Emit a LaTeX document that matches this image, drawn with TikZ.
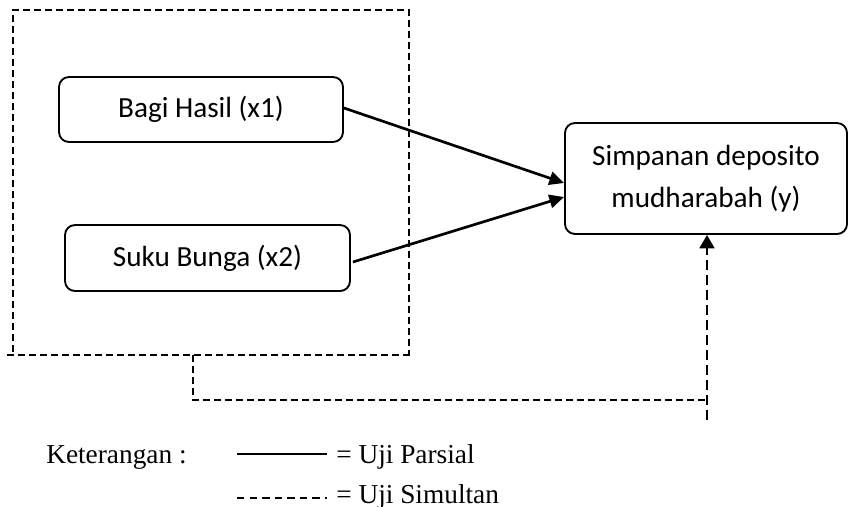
\documentclass[tikz,border=0pt]{standalone}
\usepackage{fontspec}
\setmainfont{Liberation Serif}
\newfontfamily\boxfont{Carlito}
\usetikzlibrary{arrows.meta,calc}
\begin{document}
\begin{tikzpicture}[x=0.75pt,y=-0.75pt,
  varbox/.style={draw, line width=1.4pt, rounded corners=7.5pt, inner sep=0pt,
    font=\boxfont\fontsize{21.9pt}{31.5pt}\selectfont, align=center},
  partial/.style={line width=2pt, -{Triangle[length=11pt,width=10pt]}},
  groupline/.style={line width=1.4pt, dash pattern=on 5.25pt off 3pt},
  simline/.style={line width=2pt, dash pattern=on 7.5pt off 3.75pt, -{Triangle[length=10pt,width=11pt]}},
  legtext/.style={anchor=base west, inner sep=0pt, font=\fontsize{20.5pt}{24pt}\selectfont},
  legline/.style={line width=1.1pt}
]
\useasboundingbox (0,0) rectangle (850,507);
% boxes
\node[varbox, minimum width=213pt, minimum height=48.75pt] (x1) at (201,109.5) {Bagi Hasil (x1)};
\node[varbox, minimum width=213.75pt, minimum height=49.5pt] (x2) at (207.5,258) {Suku Bunga (x2)};
\node[varbox, minimum width=211.5pt, minimum height=83.25pt] (y) at (706,178.5) {Simpanan deposito\\mudharabah (y)};
% group dashed frame
\coordinate (gtl) at (13,10);
\coordinate (gtr) at (409,10);
\coordinate (gbr) at (409,355);
\coordinate (gbrx) at (412,355);
\coordinate (gbl) at (7,355);
\coordinate (glb) at (13,352);
\coordinate (gout) at (193,355);
\coordinate (gturn) at (193,400);
\coordinate (sbot) at (707,420);
\coordinate (sjoin) at (707,400);
\draw[groupline] (glb) -- (gtl) -- (gtr) -- (gbr);
\draw[groupline] (gbl) -- (gbrx);
\draw[groupline] (gout) -- (gturn) -- (sjoin);
% arrows
\draw[partial] ($(x1.east)+(0,-1.5)$) -- ($(y.west)+(0,4.5)$);
\draw[partial] ($(x2.east)+(2,4)$) -- ($(y.west)+(0,18.5)$);
\draw[simline] (sbot) -- (sbot |- y.south);
% legend
\node[legtext] (ket) at (46,463) {Keterangan :};
\coordinate (l1a) at (237,454);
\coordinate (l1b) at (327,454);
\coordinate (l2a) at (237,498);
\coordinate (l2b) at (327,498);
\draw[legline] (l1a) -- (l1b);
\draw[legline, dash pattern=on 5.6pt off 3.8pt] (l2a) -- (l2b);
\node[legtext] (parsial) at (336,463) {= Uji Parsial};
\node[legtext] (simultan) at (336,503) {= Uji Simultan};
\end{tikzpicture}
\end{document}
